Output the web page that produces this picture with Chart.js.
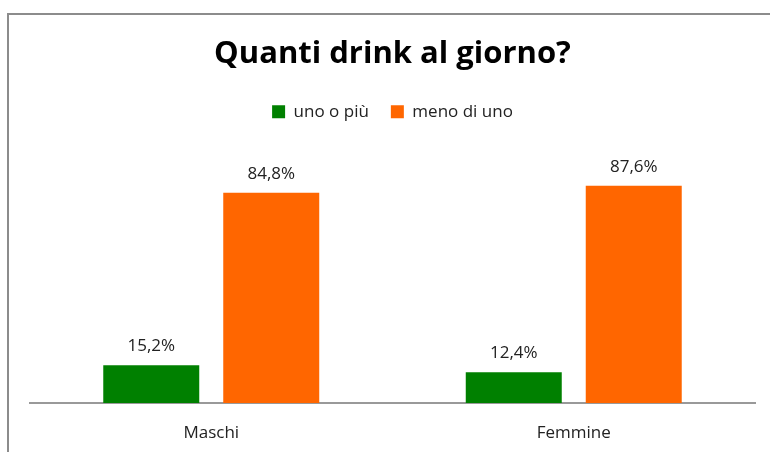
<!DOCTYPE html>
<html>
<head>
<meta charset="utf-8">
<script src="https://cdn.jsdelivr.net/npm/chart.js@4.4.1/dist/chart.umd.min.js"></script>
<style>
  html, body { margin: 0; padding: 0; background: #fff; }
  #wrap { position: relative; width: 770px; height: 452px; }
  #frame { position: absolute; left: 7px; top: 13px; right: 0; bottom: 0; border-left: 2px solid #8c8c8c; border-top: 2px solid #8c8c8c; pointer-events: none; }
  canvas { position: absolute; left: 0; top: 0; }
</style>
</head>
<body>
<div id="wrap">
  <canvas id="grafico" width="770" height="452"></canvas>
  <div id="frame"></div>
</div>
<script>
const categorie = ['Maschi', 'Femmine'];
const unoOPiu = [15.2, 12.4];
const menoDiUno = [84.8, 87.6];

const fontBase = '"Open Sans", Lato, sans-serif';

// etichette sopra le barre (tipo Excel), con la virgola decimale
const etichetteDati = {
    id: 'etichetteDati',
    afterDatasetsDraw(chart) {
        const ctx = chart.ctx;
        ctx.save();
        ctx.font = '17px ' + fontBase;
        ctx.fillStyle = '#222';
        ctx.textAlign = 'center';
        ctx.textBaseline = 'middle';
        chart.data.datasets.forEach((ds, i) => {
            const meta = chart.getDatasetMeta(i);
            meta.data.forEach((bar, j) => {
                const txt = ds.data[j].toFixed(1).replace('.', ',') + '%';
                ctx.fillText(txt, bar.x, bar.y - 19);
            });
        });
        ctx.restore();
    }
};

const ctx = document.getElementById('grafico').getContext('2d');
const chart = new Chart(ctx, {
    type: 'bar',
    data: {
        labels: categorie,
        datasets: [{
            label: 'uno o più',
            data: unoOPiu,
            backgroundColor: '#008000',
        }, {
            label: 'meno di uno',
            data: menoDiUno,
            backgroundColor: '#ff6600',
        }],
    },
    options: {
        responsive: false,
        animation: false,
        devicePixelRatio: 1,
        layout: {
            padding: { left: 30, right: 15, top: 0, bottom: 0 },
        },
        datasets: {
            bar: {
                categoryPercentage: 0.662,
                barPercentage: 0.8,
            },
        },
        plugins: {
            title: {
                display: true,
                text: 'Quanti drink al giorno?',
                color: '#000',
                font: { family: fontBase, size: 31, weight: 'bold' },
                padding: { top: 36, bottom: 8 },
            },
            legend: {
                display: true,
                labels: {
                    color: '#222',
                    font: { family: fontBase, size: 17 },
                    boxWidth: 13,
                    boxHeight: 13,
                    padding: 22,
                },
            },
            tooltip: { enabled: false },
        },
        scales: {
            x: {
                grid: { display: false, drawTicks: false },
                border: { display: true, color: '#999', width: 2 },
                ticks: {
                    color: '#222',
                    font: { family: fontBase, size: 17 },
                    padding: 20,
                },
                afterFit: (scale) => { scale.height = 49; },
            },
            y: {
                display: false,
                min: 0,
                max: 110,
            },
        },
    },
    plugins: [etichetteDati],
});
</script>
</body>
</html>
